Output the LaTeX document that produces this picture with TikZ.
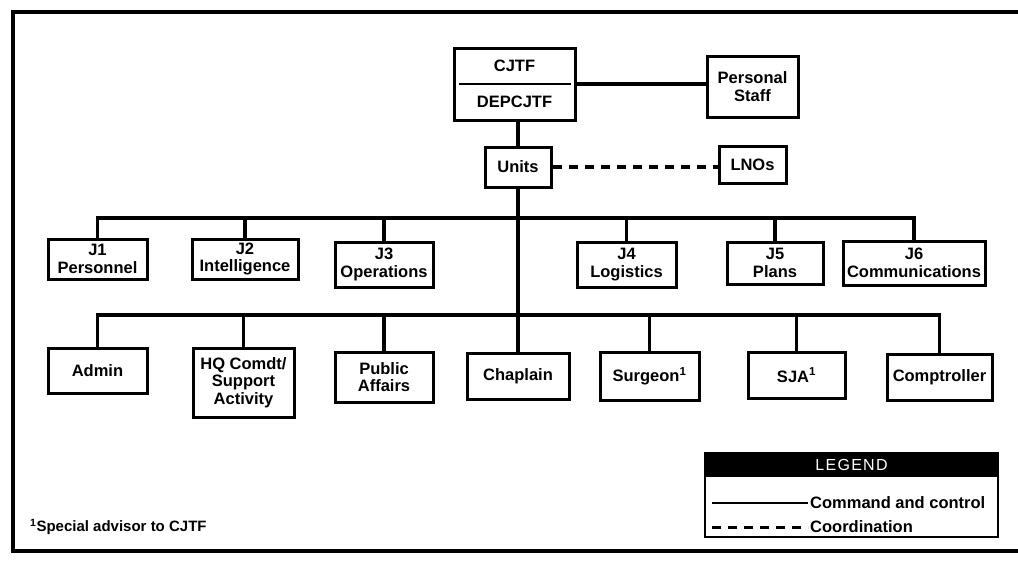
\documentclass[tikz,border=0pt]{standalone}
\usepackage{fontspec}
\setmainfont{Liberation Sans}
\begin{document}
\begin{tikzpicture}[x=1pt,y=-1pt,
  box/.style={draw, line width=3pt, inner sep=0pt, align=center,
    font=\fontsize{16.5}{17.5}\selectfont\bfseries},
  txt/.style={inner sep=0pt, align=center, font=\fontsize{16.5}{17.5}\selectfont\bfseries},
  link/.style={line width=3.2pt},
  coordln/.style={line width=3.4pt, dash pattern=on 9pt off 7pt},
]
\useasboundingbox (0,0) rectangle (1018,563);
% frame
\draw[line width=4pt] (1018,12) -- (13,12) -- (13,551) -- (1018,551);

% top
\node[box, minimum width=121pt, minimum height=72pt] (cjtf) at (514.5,84) {};
\node[txt] (cjtft) at (514.5,66) {CJTF};
\node[txt] (dept) at (514.5,101.5) {DEPCJTF};
\draw[line width=2.6pt] ([xshift=6pt]cjtf.west) -- ([xshift=-6pt]cjtf.east);
\node[box, minimum width=91pt, minimum height=61pt] (staff) at (752.5,86.5) {Personal\\Staff};
\node[box, minimum width=66pt, minimum height=40pt] (units) at (518,167) {Units};
\node[box, minimum width=67pt, minimum height=37pt] (lnos) at (752.5,165) {LNOs};

% J row
\node[box, minimum width=99pt, minimum height=40pt] (j1) at (97.5,259) {J1\\Personnel};
\node[box, minimum width=106pt, minimum height=40pt] (j2) at (245,259) {J2\\Intelligence};
\node[box, minimum width=98pt, minimum height=45pt] (j3) at (384,264.5) {J3\\Operations};
\node[box, minimum width=99pt, minimum height=45pt] (j4) at (626.5,264.5) {J4\\Logistics};
\node[box, minimum width=96pt, minimum height=42pt] (j5) at (775,263) {J5\\Plans};
\node[box, minimum width=142pt, minimum height=44pt] (j6) at (914,263) {J6\\Communications};

% special staff row
\node[box, minimum width=99pt, minimum height=45pt] (admin) at (97.5,370.5) {Admin};
\node[box, minimum width=101pt, minimum height=69pt] (hq) at (243.5,382.5) {HQ Comdt/\\Support\\Activity};
\node[box, minimum width=98pt, minimum height=50pt] (pa) at (384,377) {Public\\Affairs};
\node[box, minimum width=102pt, minimum height=46pt] (chap) at (518,376) {Chaplain};
\node[box, minimum width=99pt, minimum height=48pt] (surg) at (649.5,376) {Surgeon\textsuperscript{1}};
\node[box, minimum width=97pt, minimum height=46pt] (sja) at (796.5,375) {SJA\textsuperscript{1}};
\node[box, minimum width=105pt, minimum height=46pt] (comp) at (939.5,377) {Comptroller};

% connectors
\coordinate (busJ) at (518,218);
\coordinate (busS) at (518,315);
\draw[link] (cjtf.east) -- (cjtf.east -| staff.west);
\draw[link] (cjtf.south -| units.north) -- (units.north);
\draw[coordln] (units.east) -- (units.east -| lnos.west);
\draw[link] (units.south) -- (busS) -- (chap.north);
\draw[link] (j1.north) -- (j1.north |- busJ) -- (j6.north |- busJ) -- (j6.north);
\foreach \n in {j2,j3,j4,j5} \draw[link] (\n.north) -- (\n.north |- busJ);
\draw[link] (admin.north) -- (admin.north |- busS) -- (comp.north |- busS) -- (comp.north);
\foreach \n in {hq,pa,surg,sja} \draw[link] (\n.north) -- (\n.north |- busS);

% legend
\node[draw, line width=1.8pt, minimum width=293pt, minimum height=84pt, inner sep=0pt] (leg) at (851.5,495) {};
\node[fill=black, minimum width=293pt, minimum height=24pt, inner sep=0pt, text=white,
  font=\fontsize{16}{17}\selectfont\addfontfeatures{LetterSpace=8}] (legh) at (851.5,465) {LEGEND};
\coordinate (lca) at (712,503);
\coordinate (lcb) at (808,503);
\coordinate (lda) at (712,527);
\coordinate (ldb) at (808,527);
\draw[line width=2.2pt] (lca) -- (lcb);
\draw[line width=3pt, dash pattern=on 9pt off 7pt] (lda) -- (ldb);
\node[txt, anchor=west] (lt1) at (810,503) {Command and control};
\node[txt, anchor=west] (lt2) at (810,527) {Coordination};

% footnote
\node[txt, anchor=west, font=\fontsize{15}{16}\selectfont\bfseries] (fn) at (30,527) {\textsuperscript{1}Special advisor to CJTF};
\end{tikzpicture}
\end{document}
